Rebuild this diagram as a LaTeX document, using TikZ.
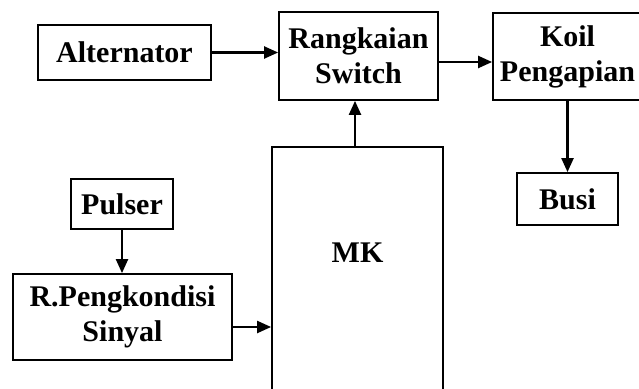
\documentclass[tikz,border=0pt]{standalone}
\usepackage{fontspec}
\setmainfont{Liberation Serif}
\usetikzlibrary{arrows.meta}
\begin{document}
\begin{tikzpicture}[x=1pt,y=-1pt,
  blk/.style={draw, line width=1.8pt, inner sep=0pt, align=center, font=\fontsize{30}{35}\selectfont\bfseries},
  conn/.style={line width=2.2pt, -{Triangle[length=14pt,width=12pt]}},
  lbl/.style={inner sep=0pt, font=\fontsize{30}{35}\selectfont\bfseries}]
\useasboundingbox (0,0) rectangle (639,388);
\node[blk, minimum width=173, minimum height=55] (alt) at (124.5,52.5) {Alternator};
\node[blk, minimum width=159, minimum height=88] (rs) at (358.5,56) {Rangkaian\\Switch};
\node[blk, minimum width=149, minimum height=87] (koil) at (567.5,56.5) {Koil\\Pengapian};
\node[blk, minimum width=101, minimum height=52] (busi) at (567.5,199) {Busi};
\node[blk, minimum width=102, minimum height=50] (pulser) at (122,204) {Pulser};
\node[blk, minimum width=219, minimum height=86] (rp) at (122.5,317) {R.Pengkondisi\\Sinyal};
\node[blk, minimum width=171, minimum height=273] (mk) at (357.5,283.5) {};
\node[lbl] (mktext) at (357.5,253) {MK};
\draw[conn] (alt.east) -- (rs.west |- alt.east);
\draw[conn] (rs.east |- {(0,62)}) -- (koil.west |- {(0,62)});
\draw[conn] (mk.north -| {(355,0)}) -- (rs.south -| {(355,0)});
\draw[conn] (koil.south -| busi.north) -- (busi.north);
\draw[conn] (pulser.south) -- (rp.north -| pulser.south);
\draw[conn] (rp.east |- {(0,327)}) -- (mk.west |- {(0,327)});
\end{tikzpicture}
\end{document}
